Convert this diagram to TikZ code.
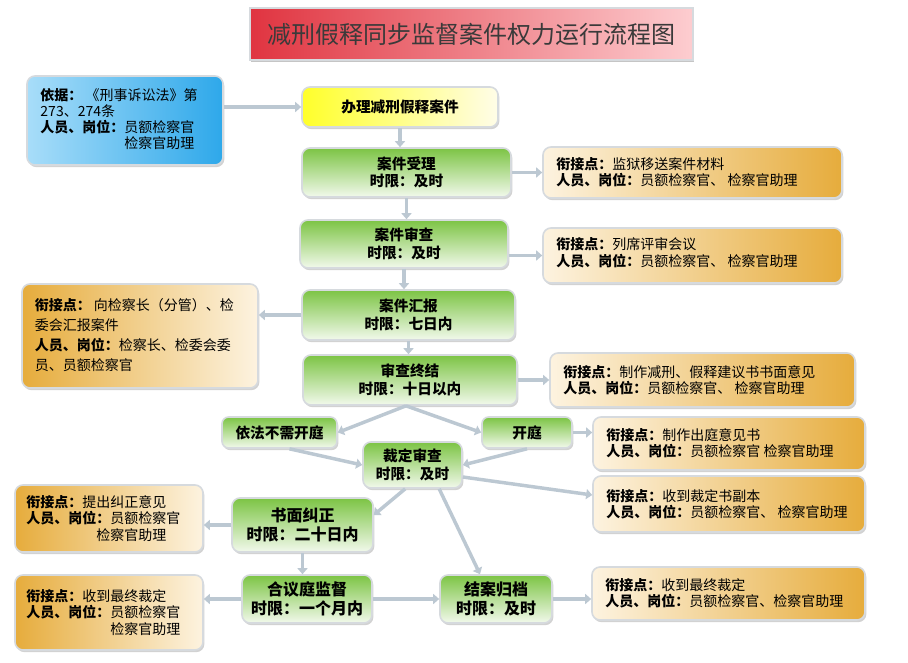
\documentclass[tikz,border=0pt]{standalone}
\usepackage{fontspec}
\setmainfont{Noto Sans CJK SC}
\usetikzlibrary{shadows,arrows.meta,calc}
\definecolor{gtop}{HTML}{7CC444}
\definecolor{gbot}{HTML}{F2F9EC}
\definecolor{ogold}{HTML}{E6AC3C}
\definecolor{ocream}{HTML}{FDF3E0}
\definecolor{bla}{HTML}{A8DDF9}
\definecolor{blb}{HTML}{2EA8EA}
\definecolor{tred}{HTML}{E03440}
\definecolor{tpink}{HTML}{FDCDD0}
\definecolor{ybright}{HTML}{FFFF2A}
\definecolor{ypale}{HTML}{FFFDE8}
\definecolor{edgec}{HTML}{D6DADE}
\definecolor{connc}{HTML}{BCC8D2}
\definecolor{ttext}{HTML}{3A3A3A}
\begin{document}
\begin{tikzpicture}[x=0.75pt,y=-0.75pt,
  sz/.style 2 args={minimum width=#1, minimum height=#2},
  boxbase/.style={draw=edgec, line width=1.2pt, rounded corners=6pt,
    drop shadow={shadow xshift=1pt, shadow yshift=-1.6pt, opacity=0.35}, inner sep=0pt},
  gbox/.style={boxbase, top color=gtop, bottom color=gbot,
    font=\bfseries\fontsize{11}{13}\selectfont, align=center},
  gboxl/.style={gbox, font=\bfseries\fontsize{12}{14}\selectfont},
  ybox/.style={boxbase, left color=ybright, right color=ypale,
    font=\bfseries\fontsize{11}{13}\selectfont},
  orbox/.style={boxbase, left color=ocream, right color=ogold},
  olbox/.style={boxbase, left color=ogold, right color=ocream},
  bbox/.style={boxbase, left color=bla, right color=blb},
  tbox/.style={draw=edgec, line width=1.5pt, left color=tred, right color=tpink,
    drop shadow={shadow xshift=0.8pt, shadow yshift=-1.8pt, opacity=0.45},
    inner sep=0pt, text=ttext, font=\fontsize{18}{20}\selectfont},
  txt/.style={anchor=west, align=left, inner sep=0pt, font=\fontsize{10.5}{12.2}\selectfont},
  conn/.style={draw=connc, line width=2.6pt, -{Triangle[width=7.5pt,length=4.5pt]}}
]
\useasboundingbox (0,0) rectangle (908,662);
\fill[white] (0,0) rectangle (908,662);

% title
\node[tbox, sz={332.25pt}{39pt}] (title) at (471.5,34) {减刑假释同步监督案件权力运行流程图};

% main column
\node[ybox, sz={147pt}{30pt}] (ban) at (400,107) {办理减刑假释案件};
\node[gbox, sz={156.75pt}{36.75pt}] (shouli) at (406.5,172.5) {案件受理\\时限：及时};
\node[gbox, sz={156pt}{36pt}] (shencha) at (404,244) {案件审查\\时限：及时};
\node[gbox, sz={159.75pt}{37.5pt}] (huibao) at (408.5,315) {案件汇报\\时限：七日内};
\node[gbox, sz={160.5pt}{37.5pt}] (zhongjie) at (410,380) {审查终结\\时限：十日以内};
\node[gbox, sz={86.25pt}{23.25pt}, rounded corners=5pt] (yifa) at (279.5,432.5) {依法不需开庭};
\node[gbox, sz={67.5pt}{23.25pt}, rounded corners=5pt] (kaiting) at (527,432.5) {开庭};
\node[gbox, sz={74.25pt}{34.5pt}] (caiding) at (412.5,465) {裁定审查\\时限：及时};
\node[gboxl, sz={105.75pt}{40.5pt}] (shumian) at (302.5,525) {书面纠正\\时限：二十日内};
\node[gboxl, sz={97.5pt}{36pt}] (heyi) at (307,599) {合议庭监督\\时限：一个月内};
\node[gboxl, sz={84pt}{36pt}] (jiean) at (496,599) {结案归档\\时限：及时};

% right boxes
\node[orbox, sz={224.25pt}{38.25pt}] (r1) at (692.5,172.5) {};
\node[txt] (r1t) at ([xshift=10.5pt]r1.west) {\textbf{衔接点：}监狱移送案件材料\\\textbf{人员、岗位：}员额检察官、 检察官助理};
\node[orbox, sz={224.25pt}{41.25pt}] (r2) at (692.5,255.5) {};
\node[txt] (r2t) at ([xshift=10.5pt,yshift=2pt]r2.west) {\textbf{衔接点：}列席评审会议\\\textbf{人员、岗位：}员额检察官、 检察官助理};
\node[orbox, sz={228.75pt}{40.5pt}] (r3) at (702.5,380) {};
\node[txt] (r3t) at ([xshift=10.5pt]r3.west) {\textbf{衔接点：}制作减刑、假释建议书书面意见\\\textbf{人员、岗位：}员额检察官、 检察官助理};
\node[orbox, sz={204pt}{39.75pt}] (r4) at (729,443.5) {};
\node[txt] (r4t) at ([xshift=10.5pt]r4.west) {\textbf{衔接点：}制作出庭意见书\\\textbf{人员、岗位：}员额检察官 检察官助理};
\node[orbox, sz={204pt}{42pt}] (r5) at (729,504) {};
\node[txt] (r5t) at ([xshift=10.5pt]r5.west) {\textbf{衔接点：}收到裁定书副本\\\textbf{人员、岗位：}员额检察官、 检察官助理};
\node[orbox, sz={204.75pt}{39.75pt}] (r6) at (728.5,593.5) {};
\node[txt] (r6t) at ([xshift=10.5pt]r6.west) {\textbf{衔接点：}收到最终裁定\\\textbf{人员、岗位：}员额检察官、检察官助理};

% left boxes
\node[bbox, sz={147pt}{66.75pt}] (l0) at (125,120.5) {};
\node[txt, font=\fontsize{10.5}{12}\selectfont] (l0t) at ([xshift=10.5pt,yshift=1pt]l0.west) {\textbf{依据：} 《刑事诉讼法》第\\273、274条\\\textbf{人员、岗位：}员额检察官\\\phantom{\textbf{人员、岗位：}}检察官助理};
\node[olbox, sz={177pt}{78pt}] (l1) at (140,336) {};
\node[txt, font=\fontsize{10.5}{15}\selectfont] (l1t) at ([xshift=10pt,yshift=1pt]l1.west) {\textbf{衔接点：} 向检察长（分管）、检\\委会汇报案件\\\textbf{人员、岗位：}检察长、检委会委\\员、员额检察官};
\node[olbox, sz={141pt}{50.25pt}] (l2) at (109,518.5) {};
\node[txt] (l2t) at ([xshift=9pt]l2.west) {\textbf{衔接点：}提出纠正意见\\\textbf{人员、岗位：}员额检察官\\\phantom{\textbf{人员、岗位}}检察官助理};
\node[olbox, sz={141pt}{56.25pt}] (l3) at (109,612.5) {};
\node[txt] (l3t) at ([xshift=9pt]l3.west) {\textbf{衔接点：}收到最终裁定\\\textbf{人员、岗位：}员额检察官\\\phantom{\textbf{人员、岗位：}}检察官助理};

% connectors
\draw[conn] (l0.east |- ban.west) -- (ban.west);
\draw[conn] (ban.south) -- (ban.south |- shouli.north);
\draw[conn] (shouli.east) -- (r1.west);
\draw[conn] (shouli.south) -- (shouli.south |- shencha.north);
\draw[conn] (shencha.east |- r2.west) -- (r2.west);
\draw[conn] (shencha.south) -- (shencha.south |- huibao.north);
\draw[conn] (huibao.west) -- (huibao.west -| l1.east);
\draw[conn] (huibao.south) -- (huibao.south |- zhongjie.north);
\draw[conn] (zhongjie.east) -- (r3.west);
\draw[conn] ([xshift=-3pt]zhongjie.south) -- (yifa.east);
\draw[conn] ([xshift=-3pt]zhongjie.south) -- (kaiting.west);
\draw[conn] ([xshift=7.5pt]yifa.south) -- (caiding.west);
\draw[conn] (kaiting.south) -- (caiding.east);
\draw[conn] (kaiting.east) -- (kaiting.east -| r4.west);
\draw[conn] ([yshift=-9pt]caiding.east) -- ([yshift=6.75pt]r5.west);
\draw[conn] ([xshift=-5.5pt]caiding.south) -- ([yshift=7.5pt]shumian.east);
\draw[conn] ([xshift=20pt]caiding.south) -- ([xshift=-12pt]jiean.north);
\draw[conn] (shumian.west) -- (shumian.west -| l2.east);
\draw[conn] (shumian.south) -- (shumian.south |- heyi.north);
\draw[conn] (heyi.west) -- (heyi.west -| l3.east);
\draw[conn] (heyi.east) -- (jiean.west);
\draw[conn] (jiean.east) -- (jiean.east -| r6.west);
\end{tikzpicture}
\end{document}
